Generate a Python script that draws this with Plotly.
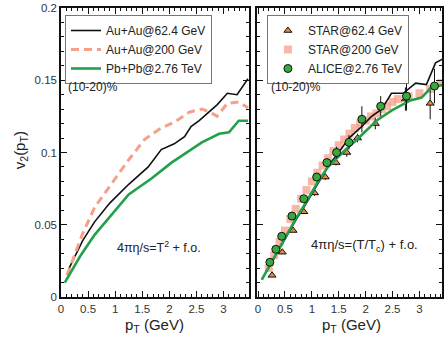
import plotly.graph_objects as go

# ---- Left panel: hydro curves, (10-20)%, 4pi eta/s = T^2 + f.o.
l_auau62_x = [0.15, 0.4, 0.62, 0.9, 1.25, 1.61, 1.85, 2.09, 2.28, 2.4, 2.55, 2.7, 2.88, 3.07, 3.25, 3.45]
l_auau62_y = [0.020, 0.039, 0.052, 0.065, 0.078, 0.090, 0.102, 0.106, 0.111, 0.118, 0.122, 0.127, 0.133, 0.141, 0.140, 0.151]
l_auau200_x = [0.11, 0.39, 0.62, 0.94, 1.25, 1.54, 1.85, 2.09, 2.37, 2.6, 2.75, 2.88, 3.07, 3.28, 3.45]
l_auau200_y = [0.015, 0.043, 0.062, 0.079, 0.095, 0.109, 0.117, 0.121, 0.128, 0.130, 0.128, 0.125, 0.134, 0.135, 0.131]
l_pbpb_x = [0.07, 0.35, 0.62, 0.95, 1.25, 1.67, 2.04, 2.4, 2.6, 2.92, 3.1, 3.28, 3.45]
l_pbpb_y = [0.010, 0.028, 0.043, 0.058, 0.071, 0.082, 0.093, 0.102, 0.107, 0.113, 0.114, 0.122, 0.122]

# ---- Right panel: hydro curves 4pi eta/s = (T/Tc) + f.o. and data
r_black_x = [0.07, 0.3, 0.5, 0.7, 0.9, 1.1, 1.31, 1.5, 1.69, 1.9, 2.11, 2.3, 2.48, 2.7, 2.93, 3.13, 3.3, 3.45]
r_black_y = [0.012, 0.027, 0.040, 0.053, 0.065, 0.078, 0.091, 0.100, 0.110, 0.117, 0.125, 0.130, 0.141, 0.141, 0.148, 0.147, 0.162, 0.165]
r_green_x = [0.07, 0.3, 0.5, 0.7, 0.9, 1.1, 1.3, 1.6, 1.87, 2.2, 2.48, 2.83, 3.04, 3.22, 3.45]
r_green_y = [0.012, 0.027, 0.041, 0.054, 0.066, 0.079, 0.090, 0.101, 0.110, 0.122, 0.129, 0.136, 0.138, 0.145, 0.147]

star62_x = [0.26, 0.45, 0.65, 0.85, 1.05, 1.25, 1.45, 1.65, 1.85, 2.18, 2.74, 3.2]
star62_y = [0.015, 0.031, 0.046, 0.059, 0.072, 0.083, 0.093, 0.100, 0.110, 0.120, 0.137, 0.134]
star62_e = [0.001, 0.001, 0.001, 0.001, 0.002, 0.002, 0.002, 0.003, 0.003, 0.004, 0.008, 0.011]

star200_x = [0.2, 0.3, 0.4, 0.5, 0.6, 0.7, 0.8, 0.9, 1.0, 1.1, 1.2, 1.3, 1.4, 1.5, 1.6, 1.7,
             1.8, 1.9, 2.0, 2.1, 2.2, 2.3, 2.4, 2.5, 2.6, 2.8, 3.0, 3.2, 3.4]
star200_y = [0.020, 0.029, 0.038, 0.046, 0.054, 0.061, 0.068, 0.074, 0.080, 0.086, 0.091, 0.096,
             0.101, 0.105, 0.109, 0.113, 0.117, 0.120, 0.122, 0.125, 0.127, 0.130, 0.132, 0.135,
             0.137, 0.139, 0.141, 0.144, 0.148]

alice_x = [0.22, 0.33, 0.44, 0.63, 0.85, 1.09, 1.28, 1.46, 1.69, 1.93, 2.28, 2.76, 3.28]
alice_y = [0.024, 0.033, 0.042, 0.056, 0.068, 0.083, 0.093, 0.100, 0.107, 0.123, 0.132, 0.139, 0.146]
alice_e = [0.001, 0.001, 0.001, 0.002, 0.002, 0.003, 0.003, 0.004, 0.005, 0.009, 0.007, 0.010, 0.012]

x_ticks = [0, 0.5, 1, 1.5, 2, 2.5, 3]
y_ticks = [0, 0.05, 0.1, 0.15, 0.2]

BLACK = "#111111"
SALMON = "#f6a08a"
GREEN = "#22a04a"
FONT = "Liberation Sans, Arial, sans-serif"

fig = go.Figure()

# left panel
fig.add_trace(go.Scatter(x=l_auau62_x, y=l_auau62_y, mode="lines", name="Au+Au@62.4 GeV",
                         line=dict(color=BLACK, width=1.6), xaxis="x", yaxis="y", legend="legend"))
fig.add_trace(go.Scatter(x=l_auau200_x, y=l_auau200_y, mode="lines", name="Au+Au@200 GeV",
                         line=dict(color=SALMON, width=3, dash="8px,5px"), xaxis="x", yaxis="y",
                         legend="legend"))
fig.add_trace(go.Scatter(x=l_pbpb_x, y=l_pbpb_y, mode="lines", name="Pb+Pb@2.76 TeV",
                         line=dict(color=GREEN, width=2.6), xaxis="x", yaxis="y", legend="legend"))

# right panel
fig.add_trace(go.Scatter(x=star200_x, y=star200_y, mode="markers", name="STAR@200 GeV",
                         marker=dict(symbol="square", size=8, color=SALMON, opacity=0.75,
                                     line=dict(width=0)),
                         xaxis="x2", yaxis="y2", legend="legend2", legendrank=2))
fig.add_trace(go.Scatter(x=star62_x, y=star62_y, mode="markers", name="STAR@62.4 GeV",
                         marker=dict(symbol="triangle-up", size=7, color="#e08a3a",
                                     line=dict(color=BLACK, width=1)),
                         error_y=dict(type="data", array=star62_e, color=BLACK, thickness=1, width=0),
                         xaxis="x2", yaxis="y2", legend="legend2", legendrank=1))
fig.add_trace(go.Scatter(x=r_black_x, y=r_black_y, mode="lines", showlegend=False,
                         line=dict(color=BLACK, width=1.6), xaxis="x2", yaxis="y2"))
fig.add_trace(go.Scatter(x=r_green_x, y=r_green_y, mode="lines", showlegend=False,
                         line=dict(color=GREEN, width=2.6), xaxis="x2", yaxis="y2"))
fig.add_trace(go.Scatter(x=alice_x, y=alice_y, mode="markers", name="ALICE@2.76 TeV",
                         marker=dict(symbol="circle", size=8, color="#3aa840",
                                     line=dict(color=BLACK, width=1)),
                         error_y=dict(type="data", array=alice_e, color=BLACK, thickness=1, width=0),
                         xaxis="x2", yaxis="y2", legend="legend2", legendrank=3))

axis_common = dict(showline=True, linecolor=BLACK, linewidth=1.5, mirror="allticks",
                   ticks="inside", ticklen=6, tickcolor=BLACK, tickwidth=1.2,
                   showgrid=False, zeroline=False,
                   tickfont=dict(family=FONT, size=11.5, color="#333333"))

W, H = 444, 338
ml, mr, mt, mb = 61, 0, 8, 41
pw = W - ml - mr
ph = H - mt - mb
fig.update_layout(
    width=W, height=H,
    margin=dict(l=ml, r=mr, t=mt, b=mb),
    paper_bgcolor="white", plot_bgcolor="white",
    font=dict(family=FONT, color="#222222"),
    xaxis=dict(domain=[0, (250 - ml) / pw], range=[0, 3.47], tickvals=x_ticks,
               minor=dict(dtick=0.1, tick0=0, ticks="inside", ticklen=3, tickcolor=BLACK),
               anchor="y", **axis_common),
    yaxis=dict(domain=[0, 1], range=[0, 0.2], tickvals=y_ticks,
               minor=dict(dtick=0.01, tick0=0, ticks="inside", ticklen=3, tickcolor=BLACK),
               anchor="x", **axis_common),
    xaxis2=dict(domain=[(258 - ml) / pw, 1], range=[-0.02, 3.42], tickvals=x_ticks,
                minor=dict(dtick=0.1, tick0=0, ticks="inside", ticklen=3, tickcolor=BLACK),
                anchor="y2", **axis_common),
    yaxis2=dict(domain=[0, 1], range=[0, 0.2], tickvals=y_ticks, showticklabels=False,
                minor=dict(dtick=0.01, tick0=0, ticks="inside", ticklen=3, tickcolor=BLACK),
                anchor="x2", **axis_common),
    legend=dict(x=(65 - ml) / pw, y=(H - mb - 15) / ph, xanchor="left", yanchor="top",
                bgcolor="white", bordercolor="#777777", borderwidth=1,
                font=dict(family=FONT, size=12, color="#222222"),
                itemwidth=30, tracegroupgap=0),
    legend2=dict(x=(268 - ml) / pw, y=(H - mb - 15) / ph, xanchor="left", yanchor="top",
                 bgcolor="white", bordercolor="#777777", borderwidth=1,
                 font=dict(family=FONT, size=12, color="#222222"),
                 itemwidth=30, tracegroupgap=0),
    showlegend=True,
)

ann_font = dict(family=FONT, size=12, color="#222222")
fig.add_annotation(text="(10-20)%", x=0.1, y=0.145, xref="x", yref="y",
                   xanchor="left", yanchor="middle", showarrow=False, font=ann_font)
fig.add_annotation(text="(10-20)%", x=0.2, y=0.145, xref="x2", yref="y2",
                   xanchor="left", yanchor="middle", showarrow=False, font=ann_font)
fig.add_annotation(text="4πη/s=T<sup>2</sup> + f.o.", x=1.8, y=0.0345, xref="x", yref="y",
                   xanchor="center", yanchor="middle", showarrow=False,
                   font=dict(family=FONT, size=12.5, color="#222222"))
fig.add_annotation(text="4πη/s=(T/T<sub>c</sub>) + f.o.", x=1.97, y=0.0355, xref="x2", yref="y2",
                   xanchor="center", yanchor="middle", showarrow=False,
                   font=dict(family=FONT, size=13, color="#222222"))
# axis titles
title_font = dict(family=FONT, size=15, color="#222222")
fig.add_annotation(text="v<sub>2</sub>(p<sub>T</sub>)", x=(20 - ml) / pw, y=(H - mb - 150) / ph,
                   xref="paper", yref="paper",
                   showarrow=False, textangle=-90, font=dict(family=FONT, size=15, color="#222222"),
                   xanchor="center", yanchor="middle")
fig.add_annotation(text="p<sub>T</sub> (GeV)", x=1.73, y=-0.06, xref="x", yref="paper",
                   yanchor="top", showarrow=False, font=title_font)
fig.add_annotation(text="p<sub>T</sub> (GeV)", x=1.73, y=-0.06, xref="x2", yref="paper",
                   yanchor="top", showarrow=False, font=title_font)

fig.write_html("out.html", config={"displayModeBar": False},
               post_script="document.body.style.margin='0';document.body.style.padding='0';")
